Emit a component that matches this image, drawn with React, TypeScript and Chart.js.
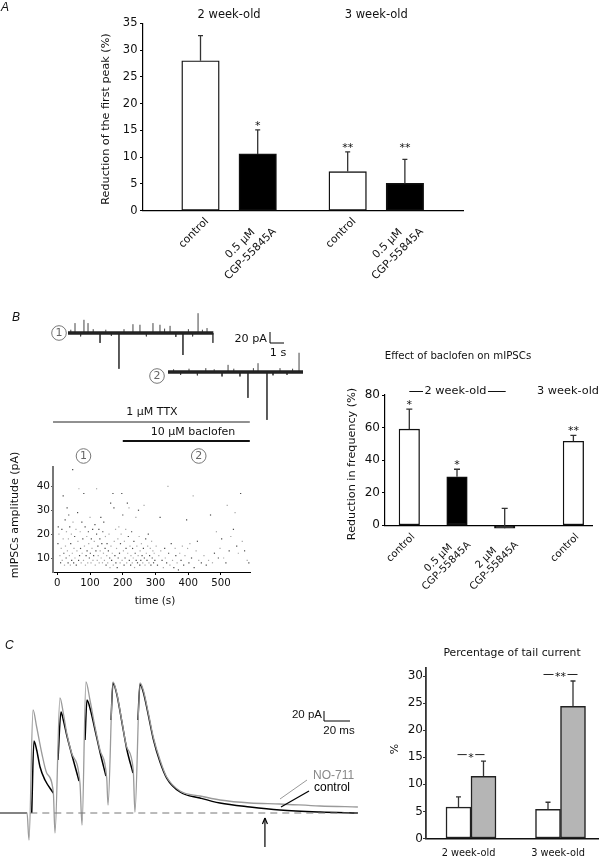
import React, { useEffect, useRef } from 'react';
import { Chart, registerables } from 'chart.js';
Chart.register(...registerables);

// ================= DATA =================
// Panel A – reduction of the first peak
const aCategories = [['control'], ['0.5 µM', 'CGP-55845A'], ['control'], ['0.5 µM', 'CGP-55845A']];
const aAgeGroup = [0, 0, 1, 1];
const aGroupTitles = ['2 week-old', '3 week-old'];
const aReduction = [28.0, 10.6, 7.3, 5.1];
const aSem = [4.7, 4.5, 3.7, 4.5];
const aStars = ['', '*', '**', '**'];
const aYTicks = [0, 5, 10, 15, 20, 25, 30, 35];

// Panel B – raw traces (event time s, amplitude pA)
const trace1Duration = 10.4;
const trace1Times = [0.2, 0.5, 0.9, 1.14, 1.43, 1.8, 2.29, 2.7, 3.1, 3.64, 4.0, 4.64, 5.14, 5.6, 6.07, 6.57, 6.9, 7.29, 7.7, 8.21, 8.6, 8.9, 9.29, 9.6, 9.93, 10.36];
const trace1Amps = [6, 18, -6, 24, 18, 7, -18, 6, -5, -65, 7, 16, 15, -6, 18, 15, 8, 13, -7, -40, 7, -6, 36, 6, 9, -18];
const trace2Duration = 9.65;
const trace2Times = [0.4, 0.9, 1.5, 2.1, 2.7, 3.3, 3.86, 4.29, 4.7, 5.14, 5.71, 6.1, 6.43, 7.07, 7.5, 8.0, 8.5, 8.9, 9.36];
const trace2Amps = [5, -5, 6, -6, 7, 5, -8, 13, 6, -8, -47, 7, 16, -87, -6, 7, -5, 6, 35];
const traceScaleBar = { pA: 20, s: 1 };

// Panel B – mIPSC amplitude vs time
const scatterPoints: [number, number][] = [
  [2, 16], [5, 20], [3, 23], [8, 11], [10, 8], [12, 14], [14, 22], [15, 9], [18, 36], [18, 18], [20, 12], [22, 7], [24, 26], [25, 15], [27, 10], [28, 21], [30, 31], [31, 13], [33, 8], [34, 18], [35, 28], [37, 11], [38, 23], [40, 7], [41, 16], [43, 20], [44, 9], [46, 12], [47, 47], [48, 25], [50, 8], [51, 14], [53, 19], [54, 10], [56, 49], [57, 22], [58, 7], [60, 13],
  [62, 29], [63, 17], [65, 9], [66, 39], [68, 11], [70, 21], [71, 14], [73, 8], [75, 25], [76, 12], [78, 18], [80, 9], [81, 37], [83, 15], [85, 23], [86, 7], [88, 11], [90, 19], [91, 13], [93, 8], [95, 21], [96, 16], [98, 10], [100, 27], [101, 12], [103, 8], [104, 18], [106, 14], [108, 22], [109, 9], [111, 11], [113, 17], [115, 24], [116, 7], [118, 13], [120, 39], [120, 20], [122, 9], [124, 15], [125, 11],
  [127, 22], [128, 8], [130, 18], [131, 13], [133, 27], [134, 10], [136, 16], [138, 8], [139, 21], [141, 12], [142, 25], [144, 9], [146, 14], [147, 19], [149, 7], [151, 11], [152, 16], [154, 8], [156, 13], [158, 20], [160, 10], [161, 6], [163, 33], [164, 15], [166, 9], [168, 12], [170, 37], [171, 7], [173, 31], [174, 17], [176, 11], [178, 22], [179, 8], [181, 14], [183, 6], [185, 18], [186, 10], [188, 23], [190, 12], [192, 8], [193, 16], [195, 20], [197, 37], [198, 9], [200, 28],
  [202, 13], [204, 7], [205, 17], [207, 10], [209, 22], [210, 14], [212, 8], [214, 33], [215, 12], [217, 19], [219, 31], [220, 9], [222, 15], [224, 7], [225, 11], [227, 21], [229, 8], [230, 14], [232, 10], [234, 17], [236, 6], [238, 12], [240, 27], [241, 9], [243, 15], [245, 8], [247, 11], [248, 30], [250, 19], [252, 7], [253, 13], [255, 9], [257, 16], [259, 11], [261, 8], [263, 14], [265, 32], [266, 10], [268, 7], [270, 18], [272, 12], [274, 9], [276, 15], [278, 20], [280, 8], [282, 11], [284, 14], [286, 7], [288, 17], [290, 10], [292, 13], [294, 8], [296, 12], [298, 9],
  [302, 15], [306, 7], [310, 11], [314, 27], [316, 13], [320, 9], [324, 6], [328, 14], [330, 10], [334, 8], [338, 40], [340, 12], [344, 7], [348, 16], [352, 9], [356, 6], [360, 14], [362, 11], [366, 8], [370, 5], [374, 12], [378, 9], [382, 15], [386, 7], [390, 11], [395, 26], [398, 14], [402, 8], [405, 16], [410, 10], [415, 36], [418, 6],
  [424, 13], [428, 17], [432, 9], [440, 8], [448, 11], [455, 7], [462, 9], [468, 28], [474, 8], [480, 12], [486, 21], [492, 10], [497, 14], [502, 18], [508, 10], [515, 8], [519, 32], [525, 13], [530, 19], [538, 22], [543, 29], [548, 15], [553, 12], [560, 37], [565, 17], [572, 13], [580, 9], [585, 8],
];
const scatterXTicks = [0, 100, 200, 300, 400, 500];
const scatterYTicks = [10, 20, 30, 40];
const ttxStart = -13;
const baclofenStart = 200;
const recordingEnd = 588;
const traceMarkTimes = [80, 432];

// Panel B – effect of baclofen on mIPSCs
const bCategories = [['control'], ['0.5 µM', 'CGP-55845A'], ['2 µM', 'CGP-55845A'], ['control']];
const bAgeGroup = [0, 0, 0, 1];
const bReduction = [59.0, 29.8, -1.8, 51.6];
const bSem = [12.3, 4.6, 12.2, 3.6];
const bStars = ['*', '*', '', '**'];
const bYTicks = [0, 20, 40, 60, 80];

// Panel C – evoked currents (time ms, current pA)
const no711Trace: [number, number][] = [
  [-2.3, 0], [18.5, 0], [20, -54], [23.1, 206], [25.9, 172], [29.8, 120], [33.6, 80], [38.7, 42],
  [40, -40], [43.8, 230], [46.4, 200], [49, 160], [52.8, 120], [59.2, 60],
  [60.8, -24], [63.8, 262], [66.9, 226], [70.8, 172], [74.6, 126], [79.8, 70],
  [80.8, 16], [84.6, 262], [87.5, 240], [91.3, 186], [95.2, 132], [100.2, 86],
  [101.5, 2], [105.4, 260], [107.9, 246], [111.8, 200], [115.6, 152], [120.8, 106], [125.9, 72], [136.2, 44], [151.5, 34], [166.9, 26], [190, 20], [213, 18], [243.8, 14], [273, 12],
];
const controlTrace: [number, number | null][] = [
  [-2.3, 0], [18.5, 0], [20, null],
  [22.1, 0], [23.8, 144], [25.9, 126], [28.5, 92], [32.3, 66], [38.7, 40], [40.5, null],
  [42.3, 106], [44.6, 202], [46.4, 186], [49, 156], [52.8, 118], [58.5, 64], [61, null],
  [63.1, 146], [64.6, 226], [66.9, 210], [70.8, 166], [74.6, 122], [79.2, 74], [81, null],
  [83.1, 186], [84.6, 260], [87.5, 238], [91.3, 184], [95.2, 128], [100, 80], [102, null],
  [103.8, 186], [105.4, 258], [107.9, 242], [111.8, 196], [115.6, 148], [120.8, 102], [125.9, 70], [136.2, 42], [151.5, 30], [166.9, 20], [190, 12], [213, 6], [243.8, 2], [273, 0],
];
const baselineSpan = [21, 273];
const arrowTime = 201.5;
const arrowSpan = [-68, -10];
const currentScaleBar = { pA: 20, ms: 20 };

// Panel C – percentage of tail current
const cGroups = ['2 week-old', '3 week-old'];
const cControl = [5.8, 5.4];
const cControlSem = [1.9, 1.3];
const cNO711 = [11.5, 24.4];
const cNO711Sem = [2.8, 4.7];
const cSig = ['*', '**'];
const cYTicks = [0, 5, 10, 15, 20, 25, 30];

// ================= HELPERS =================
const W = 605, H = 859;
const DV = '"DejaVu Sans", Verdana, sans-serif';
const AR = '"Liberation Sans", Arial, Helvetica, sans-serif';
const fnt = (size: number, fam = DV, style = '') => `${style}${size}px ${fam}`;
const pad = (l: number, t: number, r: number, b: number) => ({ left: l, top: t, right: W - r, bottom: H - b });
const padAxes = (t: number, r: number) => ({ left: 0, top: t, right: W - r, bottom: 0 });
const fixW = (w: number) => (s: any) => { s.width = w; };
const fixH = (h: number) => (s: any) => { s.height = h; };
const fixTicks = (vals: number[]) => (s: any) => { s.ticks = vals.map((v) => ({ value: v })); };
const INK = '#111';

function txt(ctx: any, s: string, x: number, y: number, font: string, o: any = {}) {
  ctx.save();
  ctx.font = font;
  ctx.fillStyle = o.color || INK;
  ctx.textAlign = o.align || 'center';
  ctx.textBaseline = o.baseline || 'middle';
  ctx.translate(x, y);
  if (o.rot) ctx.rotate(o.rot);
  ctx.fillText(s, 0, 0);
  ctx.restore();
}
function seg(ctx: any, x1: number, y1: number, x2: number, y2: number, color: string, w: number, dash: number[] = []) {
  ctx.save();
  ctx.strokeStyle = color; ctx.lineWidth = w; ctx.setLineDash(dash);
  ctx.beginPath(); ctx.moveTo(x1, y1); ctx.lineTo(x2, y2); ctx.stroke();
  ctx.restore();
}
function rotLabel(ctx: any, lines: string[], ax: number, ay: number, font: string, lh: number) {
  ctx.save();
  ctx.font = font; ctx.fillStyle = INK; ctx.textAlign = 'center'; ctx.textBaseline = 'middle';
  const w = Math.max(...lines.map((l) => ctx.measureText(l).width));
  ctx.translate(ax, ay); ctx.rotate(-Math.PI / 4);
  lines.forEach((l, i) => ctx.fillText(l, -w / 2, (i + 0.5) * lh));
  ctx.restore();
}
function circled(ctx: any, label: string, x: number, y: number) {
  ctx.save();
  ctx.strokeStyle = '#777'; ctx.lineWidth = 1;
  ctx.beginPath(); ctx.arc(x, y, 7.3, 0, Math.PI * 2); ctx.stroke();
  ctx.restore();
  txt(ctx, label, x, y + 0.5, fnt(11), { color: '#666' });
}
function errorBars(chart: any, ds: number, vals: number[], errs: number[], color: string, lw: number, cap: number) {
  const ctx = chart.ctx, y = chart.scales.y;
  chart.getDatasetMeta(ds).data.forEach((bar: any, i: number) => {
    const y0 = y.getPixelForValue(vals[i]);
    const y1 = y.getPixelForValue(vals[i] + errs[i]);
    ctx.save();
    ctx.strokeStyle = color; ctx.lineWidth = lw;
    ctx.beginPath(); ctx.moveTo(bar.x, y0); ctx.lineTo(bar.x, y1);
    ctx.moveTo(bar.x - cap, y1); ctx.lineTo(bar.x + cap, y1); ctx.stroke();
    ctx.restore();
  });
}
const base = (padding: any) => ({
  responsive: false, animation: false, devicePixelRatio: 1, events: [],
  layout: { padding },
  plugins: { legend: { display: false }, tooltip: { enabled: false }, title: { display: false } },
});
const fillFor = (lines: string[]) => (lines[0] === 'control' ? '#fff' : '#000');

// ================= CHARTS =================
function chartA() {
  const L = 143, T = 23.3, R = 463, B = 210.7, first = 200.5, unit = 57.2, gap = 0.573;
  const pos = aAgeGroup.map((g, i) => i + g * gap);
  return {
    type: 'bar',
    data: {
      datasets: [{
        data: aReduction.map((v, i) => ({ x: pos[i], y: v })),
        backgroundColor: aCategories.map(fillFor),
        borderColor: '#111', borderWidth: 1.4, borderSkipped: false,
        barThickness: 37.5, clip: false,
      }],
    },
    options: {
      ...base(padAxes(T, R)),
      scales: {
        x: { type: 'linear', offset: false, min: (L - first) / unit, max: (R - first) / unit, grid: { display: false }, border: { display: true, color: '#000', width: 1.2 }, ticks: { display: false }, afterFit: fixH(H - B) },
        y: {
          min: 0, max: 35, afterBuildTicks: fixTicks(aYTicks), afterFit: fixW(L),
          grid: { display: true, drawOnChartArea: false, drawTicks: true, tickLength: 3, color: '#000' },
          border: { display: true, color: '#000', width: 1.2 },
          ticks: { font: { family: DV, size: 11.5 }, color: INK, padding: 2.5 },
        },
      },
    },
    plugins: [{
      id: 'aDeco',
      afterDatasetsDraw(chart: any) {
        const ctx = chart.ctx, y = chart.scales.y;
        const bars = chart.getDatasetMeta(0).data;
        txt(ctx, 'A', 1, 11, fnt(12, AR, 'italic '), { align: 'left', baseline: 'alphabetic' });
        aGroupTitles.forEach((t, g) => {
          const xs = bars.filter((_: any, i: number) => aAgeGroup[i] === g).map((b: any) => b.x);
          txt(ctx, t, (Math.min(...xs) + Math.max(...xs)) / 2, 15, fnt(11.5));
        });
        txt(ctx, 'Reduction of the first peak (%)', 106, 119, fnt(11.2), { rot: -Math.PI / 2 });
        errorBars(chart, 0, aReduction, aSem, '#333', 1.3, 2.5);
        bars.forEach((b: any, i: number) => {
          if (!aStars[i]) return;
          const top = Math.max(...aReduction.map((v, j) => (aAgeGroup[j] === aAgeGroup[i] && aStars[j] ? v + aSem[j] : -Infinity)));
          txt(ctx, aStars[i], b.x, y.getPixelForValue(top) - 1, fnt(11), { baseline: 'alphabetic' });
        });
        bars.forEach((b: any, i: number) => rotLabel(ctx, aCategories[i], b.x + 1.5, B + 4, fnt(10.8), 14.5));
      },
    }],
  };
}

function traceChart(dur: number, times: number[], amps: number[], left: number, top: number, bottom: number, baseY: number, extra: (chart: any) => void) {
  const pxS = 14, pxPA = 0.55;
  const spikes: any[] = [];
  times.forEach((t, i) => { spikes.push({ x: t, y: 0 }, { x: t, y: amps[i] }, { x: t, y: null }); });
  return {
    type: 'line',
    data: {
      datasets: [
        { data: [{ x: 0, y: 0 }, { x: dur, y: 0 }], borderColor: '#222', borderWidth: 3.5, pointRadius: 0, tension: 0 },
        { data: spikes, borderColor: '#444', borderWidth: 1, pointRadius: 0, tension: 0, spanGaps: false },
      ],
    },
    options: {
      ...base(pad(left, top, left + dur * pxS, bottom)),
      scales: {
        x: { type: 'linear', display: false, min: 0, max: dur },
        y: { display: false, min: -(bottom - baseY) / pxPA, max: (baseY - top) / pxPA },
      },
    },
    plugins: [{ id: 'tr' + left, afterDatasetsDraw: extra }],
  };
}

function chartTrace1() {
  return traceChart(trace1Duration, trace1Times, trace1Amps, 68, 300, 380, 333, (chart: any) => {
    const ctx = chart.ctx, y = chart.scales.y, x = chart.scales.x;
    txt(ctx, 'B', 12, 321, fnt(12, AR, 'italic '), { align: 'left', baseline: 'alphabetic' });
    circled(ctx, '1', 59, 333);
    const bx = 270, by = 343;
    const hV = Math.abs(y.getPixelForValue(traceScaleBar.pA) - y.getPixelForValue(0));
    const wH = Math.abs(x.getPixelForValue(traceScaleBar.s) - x.getPixelForValue(0));
    seg(ctx, bx, by, bx, by - hV, '#000', 1);
    seg(ctx, bx, by, bx + wH, by, '#000', 1);
    txt(ctx, `${traceScaleBar.pA} pA`, bx - 3, 339, fnt(11.2), { align: 'right' });
    txt(ctx, `${traceScaleBar.s} s`, bx + 8, 353, fnt(11.2));
  });
}
function chartTrace2() {
  return traceChart(trace2Duration, trace2Times, trace2Amps, 168, 340, 430, 372, (chart: any) => {
    circled(chart.ctx, '2', 157, 376);
  });
}

function chartScatter() {
  const L = 53, T = 467, R = 250, B = 572;
  return {
    type: 'scatter',
    data: {
      datasets: [{
        data: scatterPoints.map(([t, a]) => ({ x: t, y: a })),
        pointRadius: 0.85, pointStyle: 'rect', borderWidth: 0,
        backgroundColor: (c: any) => (c.dataIndex % 2 === 1 ? '#a8a8a8' : '#4a4a4a'),
      }],
    },
    options: {
      ...base(padAxes(T, R)),
      scales: {
        x: {
          type: 'linear', min: -13.1, max: 588.6, afterBuildTicks: fixTicks(scatterXTicks), afterFit: fixH(H - B),
          grid: { display: true, drawOnChartArea: false, tickLength: 3, color: '#000' },
          border: { display: true, color: '#000', width: 1 },
          ticks: { font: { family: DV, size: 10.2 }, color: INK, padding: 2, maxRotation: 0, autoSkip: false },
        },
        y: {
          min: 4.14, max: 48.1, afterBuildTicks: fixTicks(scatterYTicks), afterFit: fixW(L),
          grid: { display: true, drawOnChartArea: false, tickLength: 2, color: '#555' },
          border: { display: true, color: '#777', width: 2 },
          ticks: { font: { family: DV, size: 10.5 }, color: INK, padding: 1 },
        },
      },
    },
    plugins: [{
      id: 'scDeco',
      afterDatasetsDraw(chart: any) {
        const ctx = chart.ctx, x = chart.scales.x;
        txt(ctx, 'mIPSCs amplitude (pA)', 15, 515, fnt(11), { rot: -Math.PI / 2 });
        txt(ctx, 'time (s)', 155, 601, fnt(10.5));
        const x0 = x.getPixelForValue(ttxStart), x1 = x.getPixelForValue(recordingEnd), xb = x.getPixelForValue(baclofenStart);
        seg(ctx, x0, 422, x1, 422, '#222', 1);
        txt(ctx, '1 µM TTX', 152, 412, fnt(11));
        seg(ctx, xb, 441, x1, 441, '#111', 2.2);
        txt(ctx, '10 µM baclofen', 193, 432, fnt(11));
        traceMarkTimes.forEach((t, i) => circled(ctx, String(i + 1), x.getPixelForValue(t), 456));
      },
    }],
  };
}

function chartB() {
  const L = 385, T = 395, R = 592, B = 525.3, first = 409.3, unit = 47.7, gap = 0.44;
  const pos = bAgeGroup.map((g, i) => i + g * gap);
  return {
    type: 'bar',
    data: {
      datasets: [{
        data: bReduction.map((v, i) => ({ x: pos[i], y: v })),
        backgroundColor: bCategories.map(fillFor),
        borderColor: '#111', borderWidth: 1.3, borderSkipped: false,
        barThickness: 20.5, clip: false,
      }],
    },
    options: {
      ...base(padAxes(T, R)),
      scales: {
        x: { type: 'linear', offset: false, min: (L - first) / unit, max: (R - first) / unit, grid: { display: false }, border: { display: true, color: '#000', width: 1.2 }, ticks: { display: false }, afterFit: fixH(H - B) },
        y: {
          min: 0, max: 80, afterBuildTicks: fixTicks(bYTicks), afterFit: fixW(L),
          grid: { display: true, drawOnChartArea: false, drawTicks: true, tickLength: 3, color: '#000' },
          border: { display: true, color: '#000', width: 1.2 },
          ticks: { font: { family: DV, size: 12 }, color: INK, padding: 2 },
        },
      },
    },
    plugins: [{
      id: 'bDeco',
      afterDatasetsDraw(chart: any) {
        const ctx = chart.ctx, y = chart.scales.y;
        const bars = chart.getDatasetMeta(0).data;
        txt(ctx, 'Effect of baclofen on mIPSCs', 458, 356, fnt(10.2));
        txt(ctx, 'Reduction in frequency (%)', 352, 464, fnt(11.2), { rot: -Math.PI / 2 });
        ctx.save(); ctx.font = fnt(11.3);
        const g0 = bars.filter((_: any, i: number) => bAgeGroup[i] === 0).map((b: any) => b.x);
        const a = Math.min(...g0), b2 = Math.max(...g0), cx = (a + b2) / 2 - 1.5;
        const w0 = ctx.measureText('2 week-old').width;
        const g1 = bars.filter((_: any, i: number) => bAgeGroup[i] === 1).map((b: any) => b.x);
        const w1 = ctx.measureText('3 week-old').width;
        ctx.restore();
        txt(ctx, '2 week-old', cx, 391, fnt(11.3));
        seg(ctx, a, 391.5, cx - w0 / 2 - 1.5, 391.5, '#111', 1);
        seg(ctx, cx + w0 / 2 + 1.5, 391.5, b2 + 1, 391.5, '#111', 1);
        txt(ctx, '3 week-old', Math.min(g1[0], 599 - w1 / 2), 391, fnt(11.3));
        errorBars(chart, 0, bReduction, bSem, '#333', 1.3, 3);
        bars.forEach((bb: any, i: number) => {
          if (bStars[i]) txt(ctx, bStars[i], bb.x, y.getPixelForValue(bReduction[i] + bSem[i]) - 1, fnt(11), { baseline: 'alphabetic' });
          rotLabel(ctx, bCategories[i], bb.x, B + 6, fnt(10.2), 11.5);
        });
      },
    }],
  };
}

function chartCTraces() {
  const L = 0, T = 670, R = 358, B = 850;
  return {
    type: 'line',
    data: {
      datasets: [
        { data: baselineSpan.map((t) => ({ x: t, y: 0 })), borderColor: '#777', borderWidth: 1, borderDash: [7, 5], pointRadius: 0 },
        { data: no711Trace.map(([t, v]) => ({ x: t, y: v })), borderColor: '#9a9a9a', borderWidth: 1.3, pointRadius: 0, cubicInterpolationMode: 'monotone' },
        { data: controlTrace.map(([t, v]) => ({ x: t, y: v })), borderColor: '#000', borderWidth: 1.5, pointRadius: 0, cubicInterpolationMode: 'monotone', spanGaps: false },
      ],
    },
    options: {
      ...base(pad(L, T, R, B)),
      scales: {
        x: { type: 'linear', display: false, min: -2.31, max: 273.1 },
        y: { display: false, min: -74, max: 286 },
      },
    },
    plugins: [{
      id: 'cTr',
      afterDatasetsDraw(chart: any) {
        const ctx = chart.ctx, x = chart.scales.x, y = chart.scales.y;
        txt(ctx, 'C', 5, 648.5, fnt(12, AR, 'italic '), { align: 'left', baseline: 'alphabetic' });
        const bx = 324, by = 721;
        const hV = Math.abs(y.getPixelForValue(currentScaleBar.pA) - y.getPixelForValue(0));
        const wH = Math.abs(x.getPixelForValue(currentScaleBar.ms) - x.getPixelForValue(0));
        seg(ctx, bx, by, bx, by - hV, '#000', 1);
        seg(ctx, bx, by, bx + wH, by, '#000', 1);
        txt(ctx, `${currentScaleBar.pA} pA`, bx - 2, 715, fnt(11.5, AR), { align: 'right' });
        txt(ctx, `${currentScaleBar.ms} ms`, bx + wH / 2 + 2, 731, fnt(11.5, AR));
        txt(ctx, 'NO-711', 313, 776, fnt(12, AR), { align: 'left', color: '#888' });
        txt(ctx, 'control', 314, 788, fnt(12, AR), { align: 'left', color: '#000' });
        seg(ctx, 280, 799, 307, 780, '#999', 1);
        seg(ctx, 281, 807, 309, 791, '#000', 1.2);
        const ax = x.getPixelForValue(arrowTime);
        const y0 = y.getPixelForValue(arrowSpan[0]), y1 = y.getPixelForValue(arrowSpan[1]);
        seg(ctx, ax, y0, ax, y1, '#000', 1.2);
        seg(ctx, ax - 2.5, y1 + 6, ax, y1, '#000', 1.2);
        seg(ctx, ax + 2.5, y1 + 6, ax, y1, '#000', 1.2);
      },
    }],
  };
}

function chartCBar() {
  const L = 426, T = 668, R = 598, B = 838.5, first = 471, unit = 89.5;
  const pos = cGroups.map((_, i) => i);
  return {
    type: 'bar',
    data: {
      datasets: [
        { label: 'control', data: cControl.map((v, i) => ({ x: pos[i], y: v })), backgroundColor: '#fff', borderColor: '#222', borderWidth: 1.5, borderSkipped: false, barThickness: 25 },
        { label: 'NO-711', data: cNO711.map((v, i) => ({ x: pos[i], y: v })), backgroundColor: '#b5b5b5', borderColor: '#222', borderWidth: 1.5, borderSkipped: false, barThickness: 25 },
      ],
    },
    options: {
      ...base(padAxes(T, R)),
      scales: {
        x: { type: 'linear', offset: false, min: (L - first) / unit, max: (R - first) / unit, grid: { display: false }, border: { display: true, color: '#111', width: 1.4 }, ticks: { display: false }, afterFit: fixH(H - B) },
        y: {
          min: 0, max: 31.5, afterBuildTicks: fixTicks(cYTicks), afterFit: fixW(L),
          grid: { display: true, drawOnChartArea: false, drawTicks: true, tickLength: 3, color: '#333' },
          border: { display: true, color: '#333', width: 1.8 },
          ticks: { font: { family: DV, size: 12 }, color: INK, padding: 0 },
        },
      },
    },
    plugins: [{
      id: 'cBar',
      afterDatasetsDraw(chart: any) {
        const ctx = chart.ctx, x = chart.scales.x, y = chart.scales.y;
        txt(ctx, 'Percentage of tail current', 512, 653, fnt(10.8));
        txt(ctx, '%', 395.5, 749, fnt(11), { rot: -Math.PI / 2 });
        errorBars(chart, 0, cControl, cControlSem, '#333', 1.3, 2.5);
        errorBars(chart, 1, cNO711, cNO711Sem, '#333', 1.3, 2.5);
        cGroups.forEach((g, i) => {
          const gx = x.getPixelForValue(pos[i]);
          txt(ctx, g, gx - 2.5, 853, fnt(9.8));
          const top = Math.max(cControl[i] + cControlSem[i], cNO711[i] + cNO711Sem[i]);
          const ly = y.getPixelForValue(top) - 6.5;
          const half = 13.5 + (cSig[i].length - 1) * 3.5;
          ctx.save(); ctx.font = fnt(11); const w = ctx.measureText(cSig[i]).width; ctx.restore();
          seg(ctx, gx - half, ly, gx - w / 2 - 1.5, ly, '#222', 1);
          seg(ctx, gx + w / 2 + 1.5, ly, gx + half, ly, '#222', 1);
          txt(ctx, cSig[i], gx, ly + 6, fnt(11), { baseline: 'alphabetic' });
        });
      },
    }],
  };
}

const builders = [chartA, chartTrace1, chartTrace2, chartScatter, chartB, chartCTraces, chartCBar];

export default function App() {
  const refs = useRef<(HTMLCanvasElement | null)[]>([]);
  useEffect(() => {
    const charts = builders.map((b, i) => new Chart(refs.current[i] as HTMLCanvasElement, b() as any));
    return () => charts.forEach((c) => c.destroy());
  }, []);
  return (
    <div style={{ position: 'fixed', left: 0, top: 0, width: W, height: H, background: '#fff', overflow: 'hidden' }}>
      {builders.map((_, i) => (
        <canvas
          key={i}
          ref={(el) => { refs.current[i] = el; }}
          width={W}
          height={H}
          style={{ position: 'absolute', left: 0, top: 0, width: W, height: H }}
        />
      ))}
    </div>
  );
}
